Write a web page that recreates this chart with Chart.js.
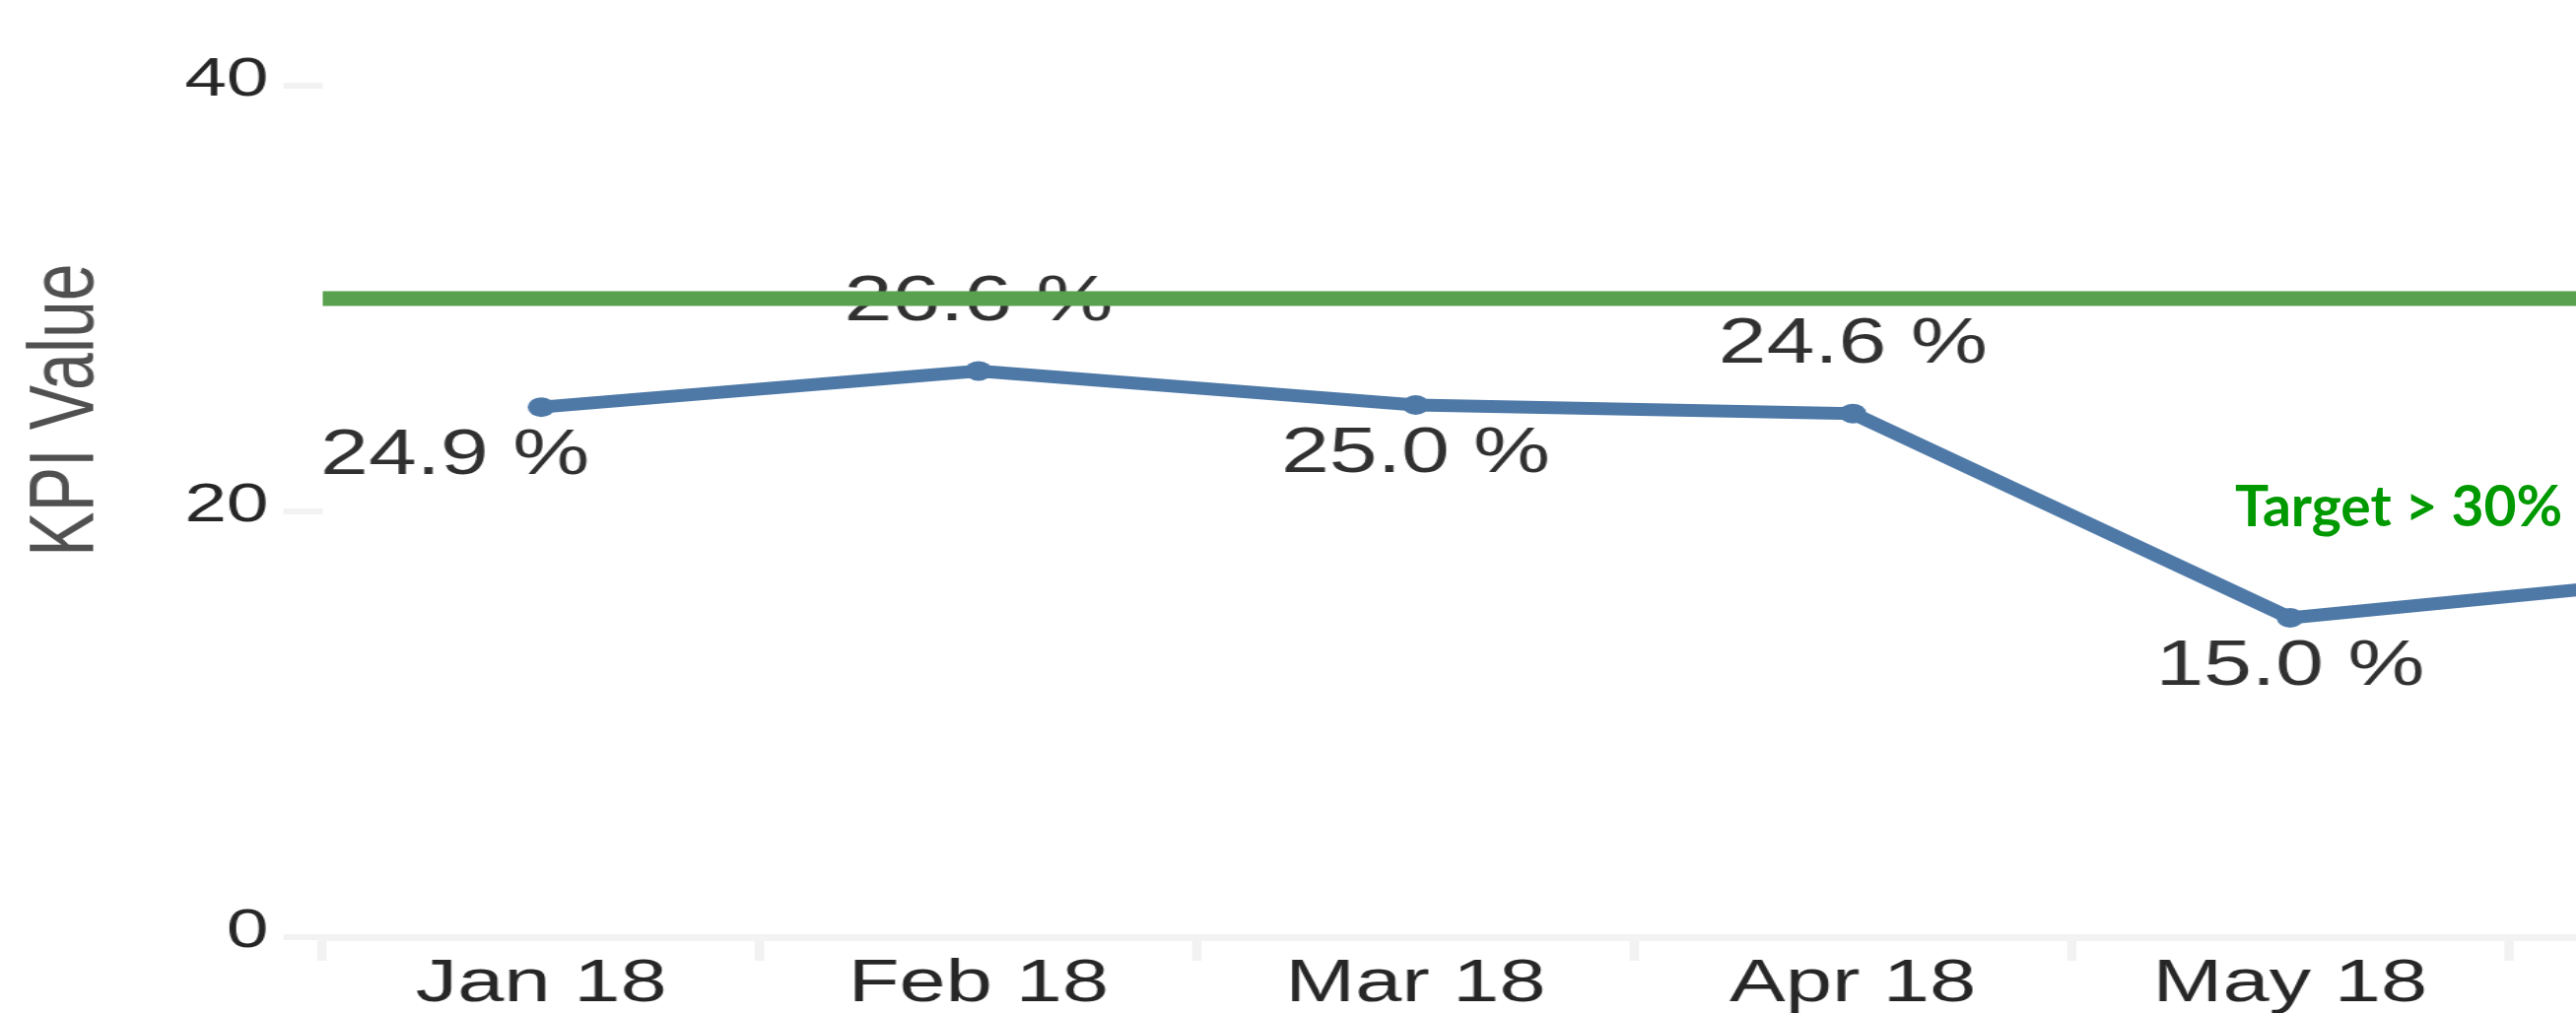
<!DOCTYPE html>
<html>
<head>
<meta charset="utf-8">
<title>KPI Value</title>
<script src="https://cdn.jsdelivr.net/npm/chart.js@4.4.1/dist/chart.umd.min.js"></script>
<style>
  html, body { margin: 0; padding: 0; background: #fff; overflow: hidden; }
  #wrap { position: relative; width: 2614px; height: 1028px; overflow: hidden; }
  #kpi-canvas { position: absolute; left: 0; top: 0; }
  #target-note {
    position: absolute; left: 2268px; top: 484px;
    font: bold 57px Lato, "Open Sans", sans-serif; line-height: 1;
    color: #009900; white-space: nowrap;
  }
</style>
</head>
<body>
<div id="wrap">
  <!-- the source picture is stretched sideways, so the canvas is too -->
  <canvas id="kpi-canvas" width="2192" height="1028" style="width:3003px;height:1028px"></canvas>
  <div id="target-note">Target &gt; 30%</div>
</div>
<script>
// Data

const months = ['Jan 18', 'Feb 18', 'Mar 18', 'Apr 18', 'May 18', 'Jun 18'];
const kpiValues = [24.9, 26.6, 25.0, 24.6, 15.0, 17.0];
const yTicks = [0, 20, 40];
const TARGET = 30;

const blue = '#4e79a7',
      green = '#59a14f',
      axisGrey = '#f2f2f2',
      textDark = '#262626',
      fontFamily = '"Liberation Sans", Arial, sans-serif';

// Plugins

// value labels, alternating below / above the points like the original
const valueLabels = {
    id: 'valueLabels',
    afterDatasetsDraw(chart, args, opts) {
        const ctx = chart.ctx;
        const meta = chart.getDatasetMeta(0);
        ctx.save();
        ctx.font = '64px ' + fontFamily;
        ctx.fillStyle = opts.color;
        ctx.textAlign = 'center';
        ctx.textBaseline = 'middle';
        meta.data.forEach((pt, i) => {
            const dy = i % 2 === 1 ? opts.above : opts.below;
            const dx = opts.shiftX[i] || 0;
            ctx.fillText(kpiValues[i].toFixed(1) + ' %', pt.x + dx, pt.y + dy);
        });
        ctx.restore();
    }
};

// green target line across the plot
const targetLine = {
    id: 'targetLine',
    afterDraw(chart, args, opts) {
        const ctx = chart.ctx;
        const y = chart.scales.y.getPixelForValue(TARGET);
        const {left, right} = chart.chartArea;
        ctx.save();
        ctx.strokeStyle = opts.color;
        ctx.lineWidth = opts.width;
        ctx.beginPath();
        ctx.moveTo(left, y);
        ctx.lineTo(right, y);
        ctx.stroke();
        ctx.restore();
    }
};

// axis title sits a bit above the middle in the original
const yTitle = {
    id: 'yTitle',
    afterDraw(chart, args, opts) {
        const ctx = chart.ctx;
        ctx.save();
        ctx.translate(opts.x, opts.y);
        ctx.rotate(-Math.PI / 2);
        ctx.font = '68px ' + fontFamily;
        ctx.fillStyle = opts.color;
        ctx.textAlign = 'center';
        ctx.textBaseline = 'middle';
        ctx.fillText(opts.text, 0, 0);
        ctx.restore();
    }
};

// Chart

const kpiCanvas = document.getElementById('kpi-canvas');

let kpiChart = new Chart(kpiCanvas, {
    type: 'line',
    data: {
        labels: months,
        datasets: [{
            label: 'KPI Value',
            data: kpiValues,
            borderColor: blue,
            backgroundColor: blue,
            borderWidth: 13,
            borderJoinStyle: 'round',
            tension: 0,
            pointRadius: 10,
            pointBorderWidth: 0,
            pointBackgroundColor: blue,
            pointHoverRadius: 10
        }]
    },
    plugins: [valueLabels, targetLine, yTitle],
    options: {
        responsive: false,
        devicePixelRatio: 1,
        animation: false,
        events: [],
        layout: {
            padding: { left: 129, right: 1, top: 87, bottom: 0 }
        },
        plugins: {
            legend: { display: false },
            tooltip: { enabled: false },
            valueLabels: { color: '#303030', above: -69, below: 50, shiftX: [-64] },
            targetLine: { color: green, width: 15 },
            yTitle: { text: 'KPI Value', x: 50, y: 416, color: '#505050' }
        },
        scales: {
            x: {
                offset: true,
                afterFit: (scale) => { scale.height = 77; },
                grid: {
                    offset: true,
                    drawOnChartArea: false,
                    drawTicks: true,
                    tickLength: 24,
                    lineWidth: 7,
                    color: axisGrey
                },
                border: { display: true, color: '#f3f3f3', width: 7 },
                ticks: {
                    padding: -13,
                    maxRotation: 0,
                    autoSkip: false,
                    color: textDark,
                    font: { family: fontFamily, size: 62, lineHeight: 1.2 }
                }
            },
            y: {
                min: 0,
                max: 40,
                afterFit: (scale) => { scale.width = 110; },
                afterBuildTicks: (scale) => { scale.ticks = yTicks.map(v => ({ value: v })); },
                grid: {
                    drawOnChartArea: false,
                    drawTicks: true,
                    tickLength: 29,
                    lineWidth: 6,
                    color: axisGrey
                },
                border: { display: false },
                ticks: {
                    padding: 11,
                    labelOffset: -5,
                    color: textDark,
                    font: { family: fontFamily, size: 56 }
                }
            }
        }
    }
});
</script>
</body>
</html>
